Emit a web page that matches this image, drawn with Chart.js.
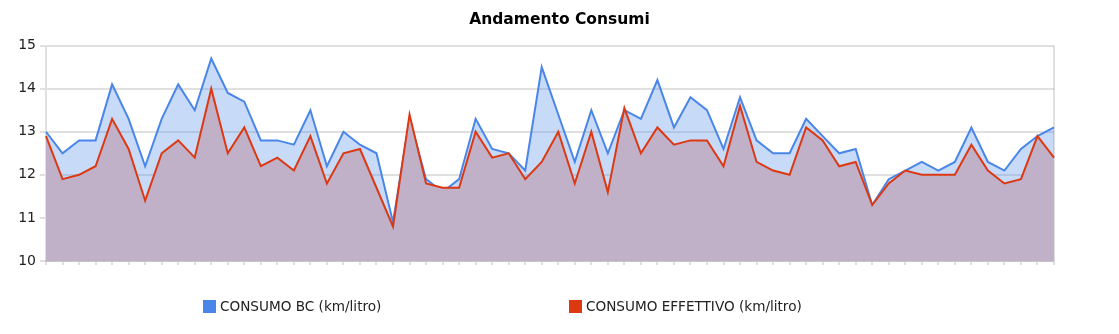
<!DOCTYPE html>
<html>
<head>
<meta charset="utf-8">
<title>Andamento Consumi</title>
<script src="https://cdn.jsdelivr.net/npm/chart.js@4.4.1/dist/chart.umd.min.js"></script>
<style>
  html, body { margin: 0; padding: 0; background: #fff; }
  #wrap { width: 1119px; height: 334px; }
</style>
</head>
<body>
<div id="wrap"><canvas id="consumiChart" width="1119" height="334"></canvas></div>
<script>
// dati
const labels = Array.from({ length: 62 }, (_, i) => String(i + 1));

const consumoBC = [
  13.0, 12.5, 12.8, 12.8, 14.1, 13.3, 12.2, 13.3, 14.1, 13.5,
  14.7, 13.9, 13.7, 12.8, 12.8, 12.7, 13.5, 12.2, 13.0, 12.7,
  12.5, 10.9, 13.3, 11.9, 11.6, 11.9, 13.3, 12.6, 12.5, 12.1,
  14.5, 13.4, 12.3, 13.5, 12.5, 13.5, 13.3, 14.2, 13.1, 13.8,
  13.5, 12.6, 13.8, 12.8, 12.5, 12.5, 13.3, 12.9, 12.5, 12.6,
  11.3, 11.9, 12.1, 12.3, 12.1, 12.3, 13.1, 12.3, 12.1, 12.6,
  12.9, 13.1
];

const consumoEffettivo = [
  12.9, 11.9, 12.0, 12.2, 13.3, 12.6, 11.4, 12.5, 12.8, 12.4,
  14.0, 12.5, 13.1, 12.2, 12.4, 12.1, 12.9, 11.8, 12.5, 12.6,
  11.7, 10.8, 13.4, 11.8, 11.7, 11.7, 13.0, 12.4, 12.5, 11.9,
  12.3, 13.0, 11.8, 13.0, 11.6, 13.55, 12.5, 13.1, 12.7, 12.8,
  12.8, 12.2, 13.6, 12.3, 12.1, 12.0, 13.1, 12.8, 12.2, 12.3,
  11.3, 11.8, 12.1, 12.0, 12.0, 12.0, 12.7, 12.1, 11.8, 11.9,
  12.9, 12.4
];

const yMin = 10;
const yMax = 15;

const seriesNames = ['CONSUMO BC (km/litro)', 'CONSUMO EFFETTIVO (km/litro)'];
const lineColors = ['#4a86e8', '#dc3912'];
const fillColors = ['rgba(74, 134, 232, 0.31)', 'rgb(192, 176, 200)'];

const gridColor = 'rgba(0, 0, 0, 0.12)';
const font = '"DejaVu Sans", sans-serif';

// legenda disegnata a mano per avere la spaziatura larga dell'originale
const bottomLegend = {
  id: 'bottomLegend',
  afterDraw(chart) {
    const ctx = chart.ctx;
    const xs = [203, 569];
    const y = 307;
    ctx.save();
    ctx.font = '13.6px ' + font;
    ctx.textBaseline = 'middle';
    ctx.textAlign = 'left';
    seriesNames.forEach((name, i) => {
      ctx.fillStyle = lineColors[i];
      ctx.fillRect(xs[i], y - 7, 13, 13);
      ctx.fillStyle = '#222';
      ctx.fillText(name, xs[i] + 17, y);
    });
    ctx.restore();
  }
};

const lastIndex = labels.length - 1;

new Chart(document.getElementById('consumiChart'), {
  type: 'line',
  data: {
    labels,
    datasets: [
      {
        label: seriesNames[0],
        data: consumoBC,
        borderColor: lineColors[0],
        backgroundColor: fillColors[0],
        borderWidth: 2,
        pointRadius: 0,
        tension: 0,
        fill: 'origin',
        order: 1
      },
      {
        label: seriesNames[1],
        data: consumoEffettivo,
        borderColor: lineColors[1],
        backgroundColor: fillColors[1],
        borderWidth: 2,
        pointRadius: 0,
        tension: 0,
        fill: 'origin',
        order: 0
      }
    ]
  },
  options: {
    responsive: false,
    animation: false,
    layout: { padding: 0 },
    plugins: {
      legend: { display: false },
      tooltip: { enabled: false },
      title: {
        display: true,
        text: 'Andamento Consumi',
        color: '#000',
        font: { family: font, size: 15.5, weight: 'bold' },
        padding: { top: 11, bottom: 16 }
      }
    },
    scales: {
      x: {
        offset: false,
        z: 1,
        ticks: { display: false },
        grid: {
          color: c => c.index === lastIndex ? gridColor : 'rgba(0,0,0,0)',
          tickColor: gridColor,
          tickLength: 4,
          lineWidth: 2
        },
        border: { color: gridColor, width: 2 },
        afterFit: s => { s.height = 73; }
      },
      y: {
        min: yMin,
        max: yMax,
        z: 1,
        ticks: {
          stepSize: 1,
          color: '#222',
          padding: 4,
          font: { family: font, size: 14 }
        },
        grid: {
          color: gridColor,
          lineWidth: 2,
          tickLength: 6
        },
        border: { color: gridColor, width: 2 },
        afterFit: s => { s.width = 46; }
      },
      // asse vuoto a destra: solo spazio bianco, così il titolo resta centrato
      spazio: {
        type: 'linear',
        position: 'right',
        min: yMin,
        max: yMax,
        ticks: { display: false },
        grid: { display: false },
        border: { display: false },
        afterFit: s => { s.width = 65; }
      }
    }
  },
  plugins: [bottomLegend]
});
</script>
</body>
</html>
